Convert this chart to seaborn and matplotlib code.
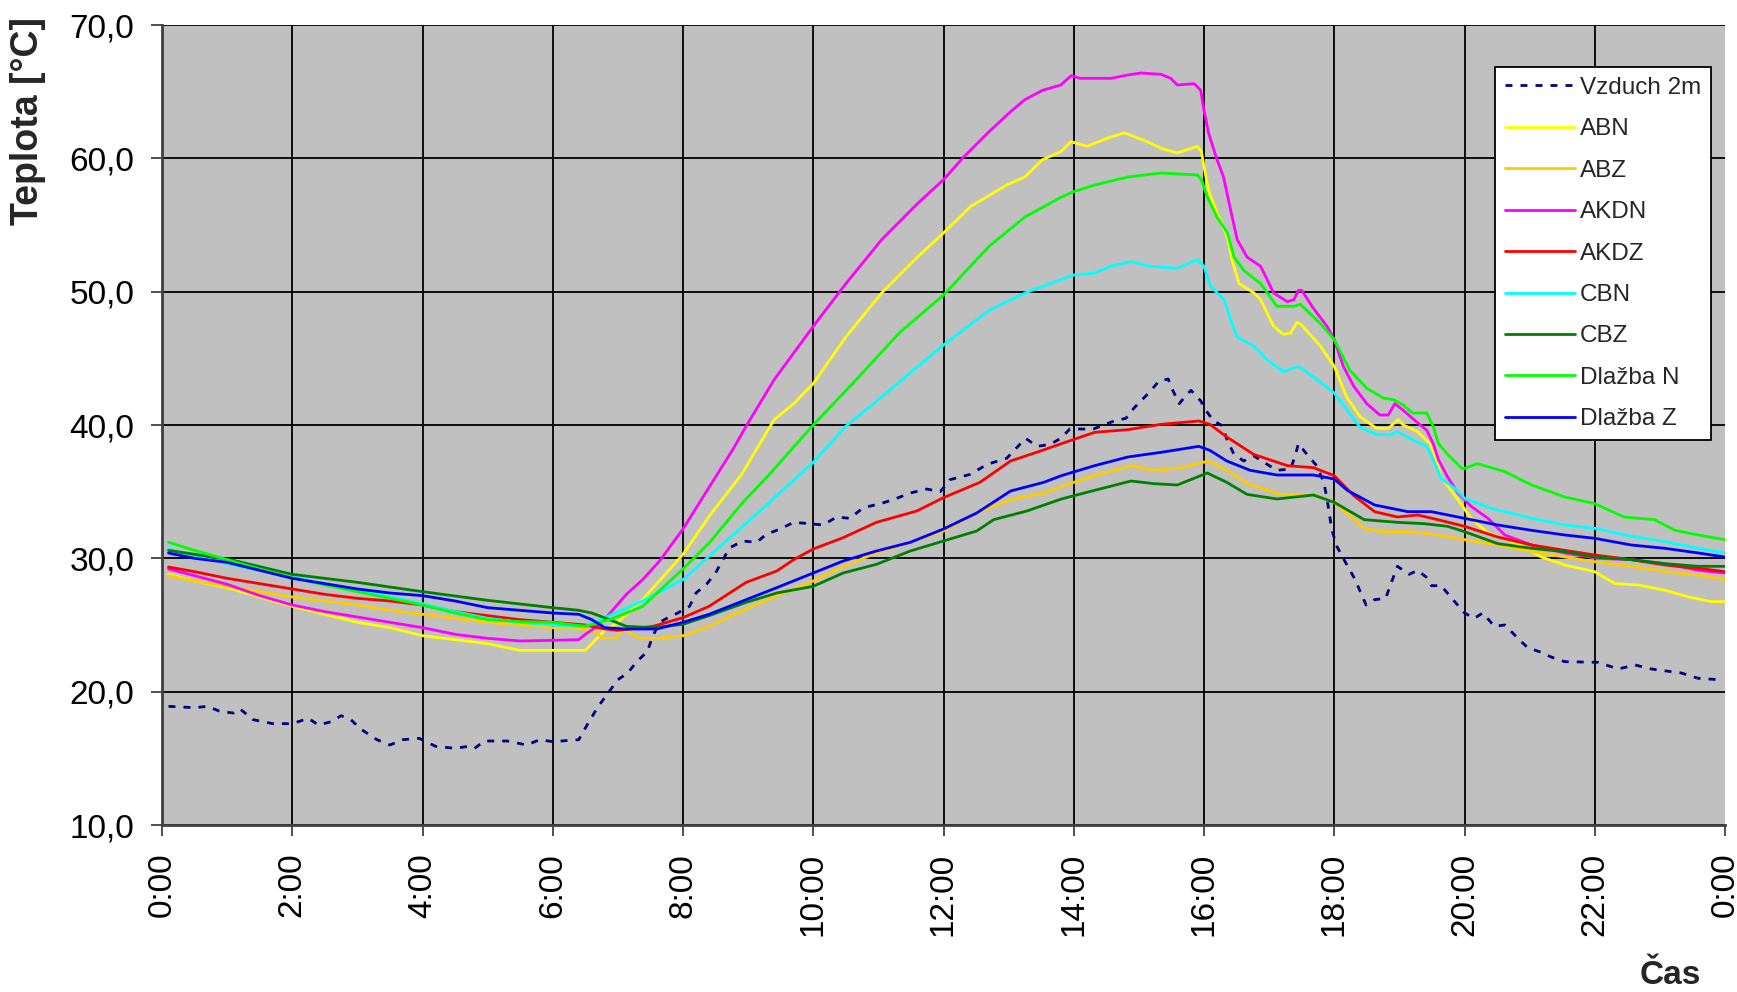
import matplotlib
matplotlib.use("Agg")
import matplotlib.pyplot as plt
import seaborn as sns

# ---- measured temperatures (hour of day, degC) ----
vzduch_t = [0.1, 0.5, 0.7, 0.9, 1.1, 1.2, 1.4, 1.7, 2.0, 2.25, 2.4, 2.6, 2.75, 2.9, 3.05, 3.3, 3.5,
            3.7, 3.95, 4.2, 4.5, 4.7, 4.8, 4.95, 5.3, 5.6, 5.8, 6.0, 6.4, 6.55, 6.7, 6.85, 7.0, 7.15,
            7.3, 7.45, 7.54, 7.64, 7.77, 7.92, 8.1, 8.2, 8.36, 8.5, 8.6, 8.72, 8.92, 9.13, 9.28, 9.49,
            9.7, 9.95, 10.15, 10.36, 10.56, 10.77, 11.03, 11.23, 11.49, 11.74, 11.95, 12.1, 12.41,
            12.67, 12.97, 13.26, 13.44, 13.64, 13.8, 13.94, 14.3, 14.62, 14.8, 14.93, 15.16, 15.31,
            15.45, 15.52, 15.62, 15.72, 15.8, 15.95, 16.05, 16.15, 16.28, 16.35, 16.46, 16.61, 16.76,
            16.92, 17.12, 17.33, 17.4, 17.45, 17.58, 17.73, 17.84, 17.89, 17.96, 18.04, 18.15, 18.31,
            18.41, 18.49, 18.62, 18.79, 18.87, 18.97, 19.15, 19.28, 19.41, 19.49, 19.64, 19.79, 20.0,
            20.15, 20.28, 20.46, 20.62, 20.82, 20.97, 21.18, 21.33, 21.54, 22.05, 22.36, 22.62, 22.87,
            23.33, 23.59, 23.9]
vzduch_v = [18.9, 18.8, 18.9, 18.5, 18.4, 18.7, 17.9, 17.6, 17.6, 18.0, 17.5, 17.75, 18.2, 17.9, 17.2,
            16.4, 16.0, 16.4, 16.5, 15.9, 15.75, 15.9, 15.75, 16.3, 16.3, 16.0, 16.4, 16.25, 16.4, 17.7,
            18.9, 19.9, 20.9, 21.4, 22.3, 23.0, 24.2, 25.2, 25.55, 25.9, 26.4, 27.4, 28.05, 28.9, 29.8,
            30.8, 31.3, 31.2, 31.8, 32.2, 32.7, 32.6, 32.5, 33.1, 33.0, 33.8, 34.1, 34.4, 34.9, 35.2,
            35.0, 35.9, 36.3, 37.05, 37.5, 39.0, 38.4, 38.55, 39.0, 39.7, 39.7, 40.3, 40.5, 41.3, 42.45,
            43.3, 43.45, 42.6, 41.6, 42.2, 42.6, 41.8, 40.95, 40.3, 39.95, 38.95, 37.8, 37.3, 37.7, 37.2,
            36.6, 36.7, 37.7, 38.6, 37.8, 36.95, 35.7, 34.45, 32.2, 30.9, 29.9, 28.5, 27.4, 26.5, 26.9,
            27.0, 28.1, 29.4, 28.8, 29.1, 28.6, 27.95, 27.95, 27.1, 25.9, 25.5, 25.9, 24.9, 25.0, 24.0,
            23.3, 22.95, 22.6, 22.25, 22.2, 21.7, 22.0, 21.7, 21.4, 21.0, 20.9]

abn_t = [0.1, 0.5, 1.0, 1.5, 2.0, 2.5, 3.0, 3.5, 4.0, 4.5, 5.0, 5.5, 6.0, 6.5, 6.8, 7.0, 7.38, 7.8,
         8.0, 8.41, 8.9, 9.4, 9.7, 10.0, 10.5, 11.05, 11.6, 12.0, 12.42, 12.97, 13.25, 13.52, 13.8,
         13.96, 14.2, 14.57, 14.78, 15.13, 15.34, 15.59, 15.9, 15.96, 16.01, 16.07, 16.2, 16.36,
         16.43, 16.54, 16.77, 16.87, 17.07, 17.22, 17.33, 17.43, 17.5, 17.79, 18.0, 18.19, 18.4,
         18.65, 18.83, 18.98, 19.06, 19.28, 19.47, 19.57, 19.64, 19.9, 20.1, 20.36, 20.82, 21.18,
         21.54, 22.0, 22.31, 22.67, 23.08, 23.44, 23.79, 24.0]
abn_v = [28.8, 28.3, 27.8, 27.1, 26.4, 25.8, 25.2, 24.8, 24.2, 23.9, 23.6, 23.1, 23.1, 23.1, 24.6, 25.2,
         26.9, 29.2, 30.3, 33.2, 36.3, 40.4, 41.6, 43.1, 46.6, 49.9, 52.6, 54.4, 56.4, 58.0, 58.6, 59.9,
         60.5, 61.25, 60.9, 61.6, 61.9, 61.25, 60.75, 60.4, 60.9, 60.5, 59.1, 57.6, 55.9, 54.1, 52.4,
         50.6, 49.9, 49.4, 47.4, 46.8, 46.9, 47.7, 47.5, 45.9, 44.4, 42.1, 40.6, 39.75, 39.75, 40.4,
         40.0, 39.5, 38.6, 37.4, 36.1, 34.4, 33.0, 31.9, 31.1, 30.1, 29.5, 29.0, 28.1, 28.0, 27.6,
         27.1, 26.75, 26.75]

abz_t = [0.1, 0.5, 1.0, 1.5, 2.0, 2.5, 3.0, 3.5, 4.0, 4.5, 5.0, 5.5, 6.0, 6.5, 6.67, 6.77, 6.97, 7.08,
         7.18, 7.33, 7.64, 8.0, 8.4, 8.97, 9.44, 10.0, 10.46, 10.97, 11.49, 12.0, 12.51, 13.03, 13.54,
         14.0, 14.32, 14.88, 15.23, 15.65, 16.07, 16.35, 16.66, 17.17, 17.68, 18.0, 18.46, 18.72,
         19.23, 19.59, 20.0, 20.51, 21.03, 21.54, 22.0, 22.56, 23.08, 23.59, 24.0]
abz_v = [28.7, 28.3, 27.9, 27.5, 27.1, 26.8, 26.5, 26.1, 25.8, 25.5, 25.2, 25.0, 24.8, 24.7, 24.4, 24.0,
         24.0, 24.7, 24.4, 24.0, 24.0, 24.2, 24.9, 26.2, 27.2, 28.3, 29.4, 30.4, 31.2, 32.05, 33.4,
         34.4, 34.9, 35.7, 36.2, 36.95, 36.6, 36.8, 37.3, 36.6, 35.6, 34.8, 34.8, 34.2, 32.25, 32.0,
         32.0, 31.75, 31.4, 31.0, 30.5, 30.1, 29.75, 29.4, 29.0, 28.75, 28.4]

akdn_t = [0.1, 0.5, 1.0, 1.5, 2.0, 2.5, 3.0, 3.5, 4.0, 4.5, 5.0, 5.5, 6.0, 6.4, 6.5, 6.65, 6.82, 7.13,
          7.38, 7.64, 8.0, 8.41, 8.77, 8.98, 9.4, 10.0, 10.5, 11.05, 11.6, 12.0, 12.31, 12.7, 13.03,
          13.25, 13.52, 13.8, 13.96, 14.1, 14.57, 14.83, 15.03, 15.34, 15.49, 15.59, 15.85, 15.95,
          16.0, 16.07, 16.2, 16.3, 16.41, 16.51, 16.66, 16.87, 17.07, 17.28, 17.38, 17.45, 17.5,
          17.68, 17.89, 18.0, 18.14, 18.3, 18.5, 18.7, 18.83, 18.93, 19.06, 19.2, 19.42, 19.52, 19.6,
          19.74, 19.9, 20.1, 20.36, 20.62, 21.03, 21.54, 22.05, 22.56, 23.08, 23.59, 24.0]
akdn_v = [29.2, 28.7, 28.05, 27.2, 26.5, 26.0, 25.6, 25.2, 24.8, 24.3, 24.0, 23.8, 23.85, 23.9, 24.3,
          24.8, 25.55, 27.3, 28.4, 29.8, 32.2, 35.4, 38.2, 40.0, 43.4, 47.4, 50.6, 53.9, 56.6, 58.4,
          60.1, 62.0, 63.5, 64.4, 65.1, 65.5, 66.2, 66.0, 66.0, 66.25, 66.4, 66.3, 66.0, 65.5, 65.6,
          65.1, 63.6, 61.9, 59.9, 58.6, 56.1, 53.9, 52.6, 51.9, 49.9, 49.25, 49.4, 50.1, 50.1, 48.75,
          47.4, 46.4, 44.4, 42.9, 41.6, 40.75, 40.75, 41.6, 41.1, 40.5, 39.6, 38.6, 37.4, 36.1, 34.9,
          33.9, 33.0, 31.75, 31.0, 30.4, 30.0, 29.9, 29.6, 29.1, 28.9]

akdz_t = [0.1, 0.5, 1.0, 1.5, 2.0, 2.5, 3.0, 3.5, 4.0, 4.5, 5.0, 5.5, 6.0, 6.5, 6.8, 7.0, 7.54, 8.0,
          8.4, 8.97, 9.44, 9.7, 10.0, 10.46, 10.97, 11.59, 12.0, 12.56, 13.03, 13.49, 13.81, 14.32,
          14.83, 15.34, 15.92, 16.09, 16.35, 16.76, 17.28, 17.68, 18.0, 18.3, 18.62, 18.97, 19.28,
          19.59, 20.0, 20.51, 21.03, 21.54, 22.0, 22.56, 23.08, 23.59, 24.0]
akdz_v = [29.35, 29.0, 28.5, 28.1, 27.7, 27.3, 27.0, 26.8, 26.5, 26.0, 25.7, 25.4, 25.2, 25.0, 24.7,
          24.6, 24.9, 25.55, 26.4, 28.2, 29.05, 29.9, 30.7, 31.55, 32.7, 33.55, 34.55, 35.7, 37.3,
          38.05, 38.6, 39.45, 39.65, 40.05, 40.3, 40.05, 39.1, 37.8, 36.95, 36.8, 36.2, 34.7, 33.5,
          33.1, 33.25, 32.9, 32.4, 31.6, 31.0, 30.6, 30.25, 29.9, 29.5, 29.25, 29.0]

cbn_t = [0.1, 0.5, 1.0, 1.5, 2.0, 2.5, 3.0, 3.5, 4.0, 4.5, 5.0, 5.5, 6.0, 6.5, 6.87, 7.38, 8.0, 8.41,
         8.92, 9.44, 10.0, 10.5, 11.05, 12.0, 12.7, 13.25, 13.8, 14.0, 14.32, 14.57, 14.88, 15.18,
         15.59, 15.9, 16.0, 16.1, 16.31, 16.41, 16.51, 16.77, 16.97, 17.22, 17.45, 17.68, 18.0, 18.4,
         18.65, 18.86, 18.96, 19.2, 19.42, 19.52, 19.64, 19.85, 20.0, 20.41, 21.03, 21.54, 22.0,
         22.45, 23.08, 23.59, 24.0]
cbn_v = [30.7, 30.2, 29.6, 29.1, 28.6, 28.1, 27.6, 27.1, 26.6, 26.0, 25.5, 25.2, 25.0, 24.9, 25.7, 26.8,
         28.4, 30.2, 32.4, 34.7, 37.2, 39.9, 42.1, 46.0, 48.6, 49.9, 50.9, 51.25, 51.4, 51.9, 52.25,
         51.9, 51.75, 52.4, 51.9, 50.4, 49.4, 47.9, 46.6, 45.9, 44.9, 44.0, 44.4, 43.6, 42.4, 39.8,
         39.3, 39.25, 39.5, 38.9, 38.4, 37.4, 36.0, 35.25, 34.5, 33.75, 33.0, 32.5, 32.25, 31.75,
         31.25, 30.75, 30.4]

cbz_t = [0.1, 0.5, 1.05, 2.0, 3.0, 4.0, 5.0, 6.0, 6.4, 6.6, 6.87, 7.13, 7.54, 8.0, 8.4, 8.97, 9.44,
         10.0, 10.46, 10.97, 11.49, 12.0, 12.51, 12.77, 13.28, 13.81, 14.32, 14.88, 15.23, 15.59,
         16.05, 16.35, 16.66, 17.12, 17.68, 18.0, 18.46, 18.97, 19.38, 19.74, 20.0, 20.51, 21.03,
         21.54, 22.0, 22.56, 23.08, 23.59, 24.0]
cbz_v = [30.6, 30.3, 29.9, 28.8, 28.2, 27.5, 26.85, 26.3, 26.1, 25.9, 25.4, 24.9, 24.8, 25.05, 25.7,
         26.7, 27.4, 27.9, 28.9, 29.55, 30.55, 31.3, 32.05, 32.9, 33.55, 34.45, 35.1, 35.8, 35.6, 35.5,
         36.4, 35.7, 34.8, 34.45, 34.75, 34.2, 32.9, 32.7, 32.6, 32.4, 32.0, 31.1, 30.75, 30.5, 30.1,
         29.9, 29.6, 29.4, 29.4]

dlazba_n_t = [0.1, 0.5, 1.0, 1.5, 2.0, 2.5, 3.0, 3.5, 4.0, 4.5, 5.0, 5.5, 6.0, 6.5, 6.87, 7.38, 8.0,
              8.41, 8.92, 9.29, 10.0, 10.66, 11.32, 12.0, 12.7, 13.25, 13.81, 14.0, 14.32, 14.83,
              15.34, 15.9, 15.96, 16.05, 16.2, 16.36, 16.46, 16.61, 16.87, 17.12, 17.38, 17.48, 17.79,
              18.0, 18.24, 18.5, 18.76, 18.91, 19.06, 19.2, 19.42, 19.52, 19.6, 19.75, 19.97, 20.2,
              20.62, 21.03, 21.54, 22.0, 22.45, 22.92, 23.23, 23.59, 24.0]
dlazba_n_v = [31.2, 30.6, 29.9, 29.2, 28.55, 28.0, 27.5, 27.0, 26.5, 25.9, 25.4, 25.25, 25.2, 24.9,
              25.4, 26.4, 29.2, 31.2, 34.2, 36.1, 40.0, 43.4, 46.9, 49.75, 53.4, 55.6, 57.1, 57.5, 58.0,
              58.6, 58.9, 58.75, 58.4, 57.1, 55.6, 54.4, 52.6, 51.6, 50.6, 48.9, 48.9, 49.05, 47.6,
              46.4, 44.1, 42.75, 42.0, 41.9, 41.5, 40.9, 40.9, 39.9, 38.6, 37.75, 36.7, 37.1, 36.5,
              35.5, 34.6, 34.1, 33.1, 32.9, 32.1, 31.75, 31.4]

dlazba_z_t = [0.1, 0.5, 1.0, 1.5, 2.0, 2.5, 3.0, 3.5, 4.0, 4.5, 5.0, 5.5, 6.0, 6.4, 6.6, 6.8, 7.1, 7.6,
              8.0, 8.4, 8.97, 9.44, 10.0, 10.46, 10.97, 11.49, 12.0, 12.51, 13.03, 13.54, 13.81, 14.32,
              14.83, 15.34, 15.92, 16.09, 16.35, 16.71, 17.12, 17.68, 18.0, 18.2, 18.62, 19.13, 19.49,
              20.0, 20.51, 21.03, 21.54, 22.0, 22.56, 23.08, 23.59, 24.0]
dlazba_z_v = [30.4, 30.0, 29.7, 29.1, 28.5, 28.1, 27.7, 27.4, 27.2, 26.8, 26.3, 26.1, 25.9, 25.8, 25.4,
              24.8, 24.7, 24.7, 25.2, 25.8, 26.9, 27.8, 28.9, 29.8, 30.55, 31.2, 32.2, 33.4, 35.05,
              35.7, 36.2, 36.95, 37.6, 37.95, 38.4, 38.1, 37.3, 36.6, 36.25, 36.25, 35.95, 35.1, 34.0,
              33.5, 33.5, 33.0, 32.5, 32.1, 31.75, 31.5, 31.0, 30.75, 30.4, 30.1]

series_names = ["Vzduch 2m", "ABN", "ABZ", "AKDN", "AKDZ", "CBN", "CBZ", "Dlažba N", "Dlažba Z"]
series_data = [
    (vzduch_t, vzduch_v), (abn_t, abn_v), (abz_t, abz_v), (akdn_t, akdn_v), (akdz_t, akdz_v),
    (cbn_t, cbn_v), (cbz_t, cbz_v), (dlazba_n_t, dlazba_n_v), (dlazba_z_t, dlazba_z_v),
]
series_colors = ["#000080", "#FFFF00", "#FFCC00", "#FF00FF", "#FF0000",
                 "#00FFFF", "#008000", "#00FF00", "#0000FF"]

x_ticks = list(range(0, 25, 2))
x_tick_labels = [f"{h % 24}:00" for h in x_ticks]
y_ticks = list(range(10, 71, 10))
y_tick_labels = [f"{v},0" for v in y_ticks]

# ---- styling ----
sns.set_style("white")
plt.rcParams["font.family"] = ["Liberation Sans", "DejaVu Sans"]

W, H = 1737, 992
fig = plt.figure(figsize=(W / 100, H / 100), dpi=100)
ax = fig.add_axes([162 / W, 1 - 825 / H, (1725 - 162) / W, (825 - 25) / H])
ax.set_facecolor("#C0C0C0")

for name, (t, v), col in zip(series_names, series_data, series_colors):
    kw = dict(color=col, linewidth=2.0, label=name, sort=False, estimator=None, ax=ax)
    if name == "Vzduch 2m":
        kw["linestyle"] = (0, (2.5, 2.9))
        kw["dash_capstyle"] = "butt"
    sns.lineplot(x=t, y=v, **kw)

ax.set_xlim(0, 24)
ax.set_ylim(10, 70)
ax.set_xticks(x_ticks)
ax.set_xticklabels(x_tick_labels, rotation=90)
ax.set_yticks(y_ticks)
ax.set_yticklabels(y_tick_labels)
ax.set_xlabel("")
ax.set_ylabel("")

ax.set_axisbelow(True)
ax.grid(True, color="black", linewidth=1.3)
ax.get_xgridlines()[-1].set_visible(False)

for side in ("top", "right"):
    ax.spines[side].set_visible(False)
for side in ("left", "bottom"):
    ax.spines[side].set_color("#404040")
    ax.spines[side].set_linewidth(2.0)

ax.tick_params(axis="both", which="major", direction="out", length=8, width=1.3,
               color="#404040", labelsize=24, pad=12, labelcolor="black",
               left=True, bottom=True)

fig.text(28 / W, 1 - 121 / H, "Teplota [°C]", rotation=90, fontsize=27,
         fontweight="bold", ha="center", va="center")
fig.text(1670 / W, 1 - 975 / H, "Čas", fontsize=24, fontweight="bold",
         ha="center", va="center")

handles, labels = ax.get_legend_handles_labels()
order = [labels.index(n) for n in series_names]
leg = ax.legend([handles[i] for i in order], [labels[i] for i in order],
                loc="upper left", bbox_to_anchor=(1495 / W, 1 - 67 / H),
                bbox_transform=fig.transFigure, fontsize=17.5, frameon=True,
                fancybox=False, framealpha=1, edgecolor="black", facecolor="white",
                handlelength=2.9, handletextpad=0.2, labelspacing=0.8,
                borderpad=0.4, borderaxespad=0)
leg.get_frame().set_linewidth(1.3)

fig.savefig("out.png", dpi=100)
